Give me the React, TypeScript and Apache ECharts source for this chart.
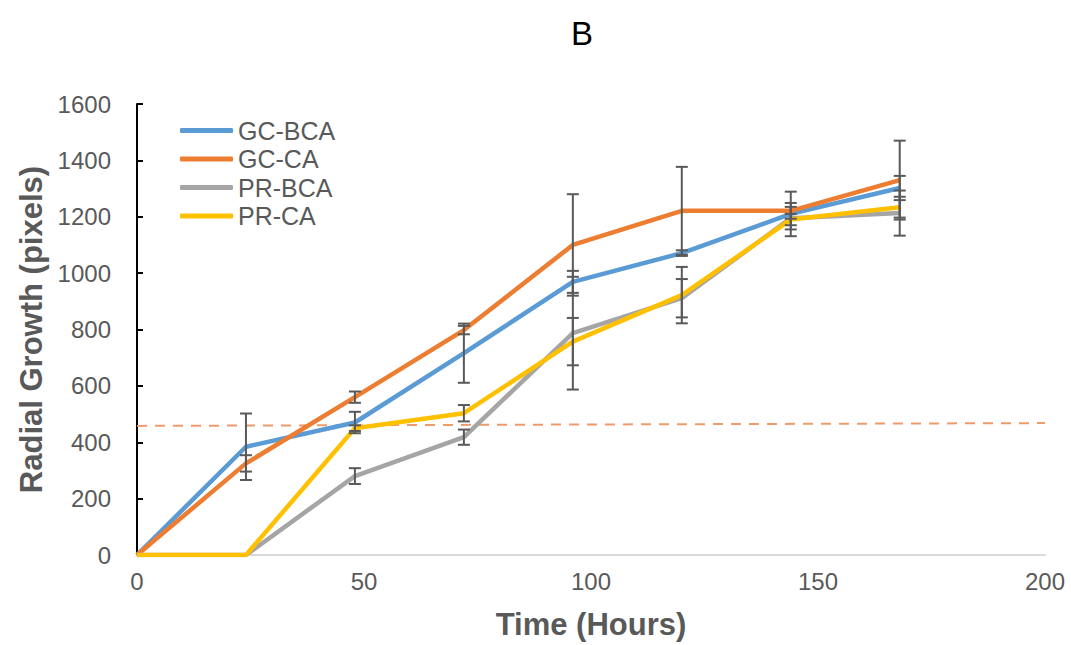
import React, { useEffect, useRef } from "react";
import * as echarts from "echarts";

const hours = [0, 24, 48, 72, 96, 120, 144, 168];
const seriesNames = ["GC-BCA", "GC-CA", "PR-BCA", "PR-CA"];
const gcBca = [0, 384, 470, 716, 969, 1071, 1210, 1302];
const gcCa = [0, 325, 560, 798, 1100, 1221, 1221, 1330];
const prBca = [0, 0, 280, 418, 787, 911, 1195, 1213];
const prCa = [0, 0, 450, 503, 757, 922, 1190, 1234];
const gcBcaErr = [0, 118, 38, 105, 39, 10, 79, 43];
const gcCaErr = [0, 29, 20, 15, 180, 156, 28, 140];
const prBcaErr = [0, 0, 28, 27, 200, 68, 40, 80];
const prCaErr = [0, 0, 10, 29, 84, 100, 20, 37];
const refLine = [
  [0, 458],
  [200, 468],
];
const colors = ["#5B9BD5", "#ED7D31", "#A5A5A5", "#FFC000"];

export default function App() {
  const ref = useRef<HTMLDivElement>(null);
  useEffect(() => {
    if (!ref.current) return;
    const chart = echarts.init(ref.current, null, { renderer: "svg" });
    const values = [gcBca, gcCa, prBca, prCa];
    const errs = [gcBcaErr, gcCaErr, prBcaErr, prCaErr];
    const errData: number[][] = [];
    values.forEach((vals, si) => {
      vals.forEach((v, i) => {
        if (errs[si][i] > 0) errData.push([hours[i], v, errs[si][i]]);
      });
    });
    const lineSeries = values.map((vals, si) => ({
      name: seriesNames[si],
      type: "line",
      data: vals.map((v, i) => [hours[i], v]),
      symbol: "none",
      lineStyle: { width: 4.5, color: colors[si] },
      itemStyle: { color: colors[si] },
      z: 2 + si,
    }));
    const font = "Arial, 'Liberation Sans', sans-serif";
    chart.setOption({
      animation: false,
      title: {
        text: "B",
        left: 566,
        top: 12,
        textStyle: { fontFamily: font, fontSize: 33, fontWeight: "normal", color: "#000" },
      },
      legend: {
        data: seriesNames.map((n) => ({ name: n, icon: "roundRect" })),
        orient: "vertical",
        left: 180,
        top: 118,
        padding: 0,
        itemWidth: 53,
        itemHeight: 5,
        itemGap: 3.5,
        textStyle: { fontFamily: font, fontSize: 25, color: "#595959", lineHeight: 25 },
      },
      grid: { left: 137, right: 26, top: 104, bottom: 90 },
      xAxis: {
        type: "value",
        min: 0,
        max: 200,
        interval: 50,
        name: "Time (Hours)",
        nameLocation: "middle",
        nameGap: 54,
        nameTextStyle: { fontFamily: font, fontSize: 31, fontWeight: "bold", color: "#595959" },
        axisLine: { lineStyle: { color: "#d9d9d9", width: 2 } },
        axisTick: { show: false },
        splitLine: { show: false },
        axisLabel: { fontFamily: font, fontSize: 24, color: "#595959", margin: 14 },
      },
      yAxis: {
        type: "value",
        min: 0,
        max: 1600,
        interval: 200,
        name: "Radial Growth (pixels)",
        nameLocation: "middle",
        nameGap: 88,
        nameTextStyle: { fontFamily: font, fontSize: 31, fontWeight: "bold", color: "#595959" },
        axisLine: { show: true, lineStyle: { color: "#000", width: 2 } },
        axisTick: { show: true, inside: true, length: 6, lineStyle: { color: "#000", width: 2 } },
        splitLine: { show: false },
        axisLabel: {
          fontFamily: font,
          fontSize: 24,
          color: "#595959",
          margin: 26,
          formatter: (v: number) => String(v),
        },
      },
      series: [
        {
          name: "ref",
          type: "line",
          data: refLine,
          symbol: "none",
          lineStyle: { width: 2, color: "#EE9A6A", type: [10, 8] },
          z: 1,
        },
        ...lineSeries,
        {
          name: "err",
          type: "custom",
          data: errData,
          z: 10,
          renderItem: (params: any, api: any) => {
            const x = api.value(0);
            const y = api.value(1);
            const e = api.value(2);
            const top = api.coord([x, y + e]);
            const bot = api.coord([x, y - e]);
            const hw = 6;
            const style = { stroke: "#595959", lineWidth: 2 };
            return {
              type: "group",
              children: [
                { type: "line", shape: { x1: top[0], y1: top[1], x2: bot[0], y2: bot[1] }, style },
                { type: "line", shape: { x1: top[0] - hw, y1: top[1], x2: top[0] + hw, y2: top[1] }, style },
                { type: "line", shape: { x1: bot[0] - hw, y1: bot[1], x2: bot[0] + hw, y2: bot[1] }, style },
              ],
            };
          },
        },
      ],
    });
    return () => chart.dispose();
  }, []);
  return (
    <div
      ref={ref}
      style={{ position: "fixed", left: 0, top: 0, width: 1071, height: 645, background: "#fff" }}
    />
  );
}
